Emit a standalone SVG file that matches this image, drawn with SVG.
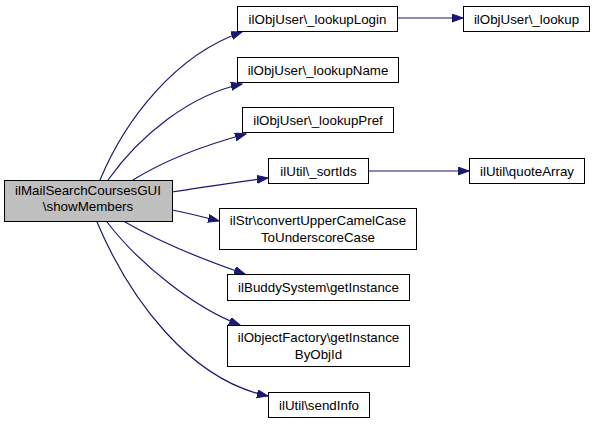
<svg xmlns="http://www.w3.org/2000/svg" width="595" height="424" viewBox="0 0 595 424">
<style>
.n rect{fill:#ffffff;stroke:#000000;stroke-width:1}
.n.main rect{fill:#bfbfbf}
text{font-family:"Liberation Sans",Arial,sans-serif;font-size:13.33px;fill:#000;text-anchor:middle}
.e path{fill:none;stroke:#191970;stroke-width:1.2}
</style>
<defs>
<marker id="ah" markerUnits="userSpaceOnUse" markerWidth="12" markerHeight="9" refX="11" refY="4" orient="auto">
<path d="M0,0 L11,4 L0,8 z" fill="#191970" stroke="#191970"/>
</marker>
</defs>
<rect width="595" height="424" fill="#ffffff"/>
<g class="e">
<path d="M100,180 C125,120 175,55 242,32" marker-end="url(#ah)"/>
<path d="M108,180 C140,135 190,95 242,84" marker-end="url(#ah)"/>
<path d="M133,180 C165,160 205,145 246,134" marker-end="url(#ah)"/>
<path d="M172,192 C200,188 235,182 268,178" marker-end="url(#ah)"/>
<path d="M172,210 C188,213 203,217 219,221" marker-end="url(#ah)"/>
<path d="M125,222 C165,245 210,262 245,274" marker-end="url(#ah)"/>
<path d="M107,222 C140,265 195,308 240,325" marker-end="url(#ah)"/>
<path d="M97,222 C130,300 190,380 268,396" marker-end="url(#ah)"/>
<path d="M397,18 L463,18" marker-end="url(#ah)"/>
<path d="M368,171 L469,171" marker-end="url(#ah)"/>
</g>
<g id="main" class="n main"><rect x="4.5" y="180.5" width="168" height="41"/><text x="88" y="194.5">ilMailSearchCoursesGUI</text><text x="88" y="211">\showMembers</text></g>
<g id="lookupLogin" class="n"><rect x="237.5" y="6.5" width="160" height="25"/><text x="317.5" y="23.5">ilObjUser\_lookupLogin</text></g>
<g id="lookup" class="n"><rect x="463.5" y="6.5" width="126" height="25"/><text x="526.5" y="23.5">ilObjUser\_lookup</text></g>
<g id="lookupName" class="n"><rect x="237.5" y="57.5" width="161" height="25"/><text x="318" y="74.5">ilObjUser\_lookupName</text></g>
<g id="lookupPref" class="n"><rect x="242.5" y="107.5" width="151" height="25"/><text x="318" y="124.5">ilObjUser\_lookupPref</text></g>
<g id="sortIds" class="n"><rect x="268.5" y="158.5" width="100" height="25"/><text x="318.5" y="175.5">ilUtil\_sortIds</text></g>
<g id="quoteArray" class="n"><rect x="469.5" y="158.5" width="115" height="25"/><text x="527" y="175.5">ilUtil\quoteArray</text></g>
<g id="convertUpper" class="n"><rect x="219.5" y="208.5" width="197" height="41"/><text x="318" y="225">ilStr\convertUpperCamelCase</text><text x="318" y="241.5">ToUnderscoreCase</text></g>
<g id="buddy" class="n"><rect x="227.5" y="274.5" width="182" height="26"/><text x="318.5" y="292">ilBuddySystem\getInstance</text></g>
<g id="objectFactory" class="n"><rect x="227.5" y="325.5" width="182" height="41"/><text x="318.5" y="342">ilObjectFactory\getInstance</text><text x="318.5" y="358.5">ByObjId</text></g>
<g id="sendInfo" class="n"><rect x="268.5" y="392.5" width="101" height="25"/><text x="319" y="409.5">ilUtil\sendInfo</text></g>
</svg>
